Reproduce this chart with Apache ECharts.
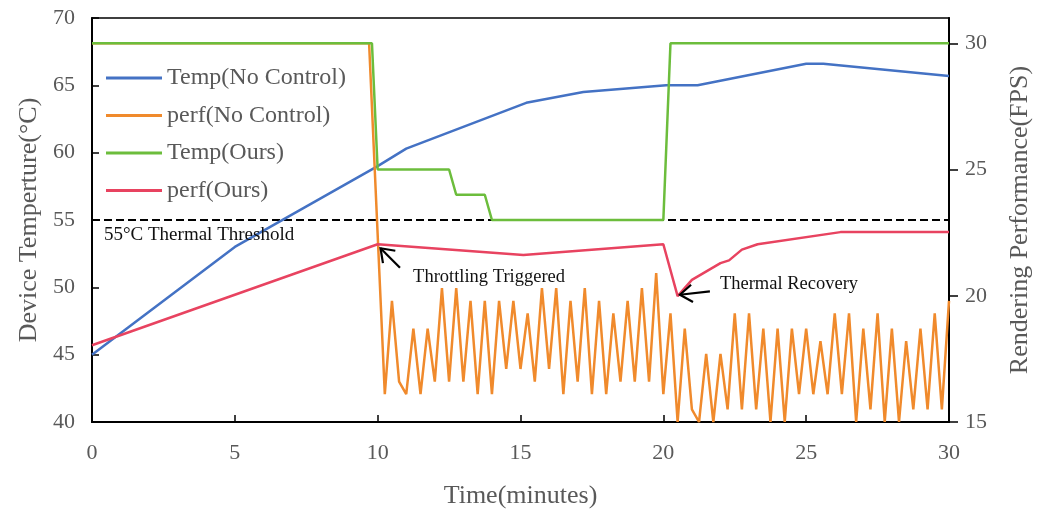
<!DOCTYPE html>
<html>
<head>
<meta charset="utf-8">
<script src="https://cdn.jsdelivr.net/npm/echarts@6/dist/echarts.min.js"></script>
<style>
html,body{margin:0;padding:0;background:#fff;}
#chart{width:1046px;height:510px;}
</style>
</head>
<body>
<div id="chart"></div>
<script>
// ---- data ----
const xTicks = [0, 5, 10, 15, 20, 25, 30];
const leftTicks = [40, 45, 50, 55, 60, 65, 70];
const rightTicks = [15, 20, 25, 30];
const seriesNames = ['Temp(No Control)', 'perf(No Control)', 'Temp(Ours)', 'perf(Ours)'];

// Temp(No Control) [minutes, °C] (left axis)
const tempNoControl = [[0,45],[5,53],[10,59],[11,60.3],[15.2,63.7],[17.2,64.5],[20.1,65],[21.2,65],[25,66.6],[25.6,66.6],[30,65.7]];

// perf(No Control) [minutes, FPS] (right axis)
const perfNoControl = [[0,30],[9.7,30],
 [10.25,16.1],[10.5,19.8],[10.75,16.6],[11,16.1],[11.25,18.7],[11.5,16.1],[11.75,18.7],[12,16.6],
 [12.25,20.3],[12.5,16.6],[12.75,20.3],[13,16.6],[13.25,19.8],[13.5,16.1],[13.75,19.8],[14,16.1],
 [14.25,19.8],[14.5,17.1],[14.75,19.8],[15,17.1],[15.25,19.3],[15.5,16.6],[15.75,20.3],[16,17.1],
 [16.25,20.3],[16.5,16.1],[16.75,19.8],[17,16.6],[17.25,20.3],[17.5,16.1],[17.75,19.8],[18,16.1],
 [18.25,19.3],[18.5,16.6],[18.75,19.8],[19,16.6],[19.25,20.3],[19.5,16.6],[19.75,20.9],[20,16.1],
 [20.25,19.3],[20.5,15],[20.75,18.7],[21,15.5],[21.25,15],[21.5,17.7],[21.75,15],[22,17.7],
 [22.25,15.5],[22.5,19.3],[22.75,15.5],[23,19.3],[23.25,15.5],[23.5,18.7],[23.75,15],[24,18.7],
 [24.25,15],[24.5,18.7],[24.75,16.1],[25,18.7],[25.25,16.1],[25.5,18.2],[25.75,16.1],[26,19.3],
 [26.25,16.1],[26.5,19.3],[26.75,15],[27,18.7],[27.25,15.5],[27.5,19.3],[27.75,15],[28,18.7],
 [28.25,15],[28.5,18.2],[28.75,15.5],[29,18.7],[29.25,15.5],[29.5,19.3],[29.75,15.5],[30,19.8]];

// Temp(Ours) [minutes, FPS-scale] (right axis)
const tempOurs = [[0,30],[9.8,30],[10,25],[12.5,25],[12.75,24],[13.75,24],[14,23],[20,23],[20.25,30],[30,30]];

// perf(Ours) [minutes, °C-scale] (left axis)
const perfOurs = [[0,45.7],[10,53.2],[15.1,52.4],[20,53.2],[20.5,49.35],[21,50.55],[22,51.8],[22.3,52.0],[22.75,52.8],[23.3,53.2],[26.2,54.1],[30,54.1]];

// threshold
const thresholdValue = 55;

// annotations
const noteTexts = ['55°C Thermal Threshold', 'Throttling Triggered', 'Thermal Recovery'];
const notePos = [[0.42, 53.85], [11.24, 50.72], [21.98, 50.2]];
const arrows = [[10.1, 52.9, 10.78, 51.45], [20.58, 49.45, 21.63, 49.7]]; // tip x,y, tail x,y

// ---- styles ----
const FONT = "'Liberation Serif','Times New Roman',serif";
const GRAY = '#595959';
const colors = ['#4472C4', '#F08A2C', '#6CBD3C', '#E84360'];

const chart = echarts.init(document.getElementById('chart'), null, {renderer: 'canvas'});

const option = {
  animation: false,
  backgroundColor: '#fff',
  color: colors,
  grid: {left: 92, right: 97, top: 18, bottom: 88, containLabel: false, outerBoundsMode: 'none',
         show: true, borderColor: '#000', borderWidth: 1.5},
  legend: {
    orient: 'vertical', left: 106, top: 66, padding: 0,
    data: seriesNames.map(n => ({name: n, icon: 'rect'})),
    itemWidth: 56, itemHeight: 3, itemGap: 13.5,
    textStyle: {fontFamily: FONT, fontSize: 24, color: GRAY, lineHeight: 24}
  },
  xAxis: {
    type: 'value', min: 0, max: 30, interval: 5,
    name: 'Time(minutes)', nameLocation: 'middle', nameGap: 61,
    nameTextStyle: {fontFamily: FONT, fontSize: 26, color: GRAY},
    axisLine: {show: true, lineStyle: {color: '#000', width: 2}},
    axisTick: {show: true, inside: true, length: 7, lineStyle: {color: '#000', width: 1.5}, customValues: xTicks},
    axisLabel: {fontFamily: FONT, fontSize: 22, color: GRAY, margin: 20, customValues: xTicks},
    splitLine: {show: false}
  },
  yAxis: [{
    type: 'value', min: 40, max: 70, interval: 5, position: 'left',
    name: 'Device Temperture(°C)', nameLocation: 'middle', nameGap: 50, nameRotate: 90,
    nameTextStyle: {fontFamily: FONT, fontSize: 26, color: GRAY},
    axisLine: {show: true, lineStyle: {color: '#000', width: 2}},
    axisTick: {show: true, inside: true, length: 7, lineStyle: {color: '#000', width: 1.5}, customValues: leftTicks},
    axisLabel: {fontFamily: FONT, fontSize: 22, color: GRAY, margin: 17, customValues: leftTicks},
    splitLine: {show: false}
  }, {
    type: 'value', min: 15, max: 31, interval: 5, position: 'right',
    name: 'Rendering Performance(FPS)', nameLocation: 'middle', nameGap: 58, nameRotate: 90,
    nameTextStyle: {fontFamily: FONT, fontSize: 26, color: GRAY},
    axisLine: {show: true, lineStyle: {color: '#000', width: 2}},
    axisTick: {show: true, inside: false, length: 9, lineStyle: {color: '#000', width: 1.5}, customValues: rightTicks},
    axisLabel: {fontFamily: FONT, fontSize: 22, color: GRAY, margin: 16, customValues: rightTicks},
    splitLine: {show: false}
  }],
  series: [
    {name: 'threshold', type: 'line', yAxisIndex: 0, data: [[0, thresholdValue], [30, thresholdValue]],
     symbol: 'none', silent: true, lineStyle: {color: '#000', width: 2, type: [8, 4]}, z: 1},
    {name: seriesNames[0], type: 'line', yAxisIndex: 0, data: tempNoControl, symbol: 'none',
     lineStyle: {width: 2.5, color: colors[0]}, itemStyle: {color: colors[0]}},
    {name: seriesNames[1], type: 'line', yAxisIndex: 1, data: perfNoControl, symbol: 'none',
     lineStyle: {width: 2.5, color: colors[1]}, itemStyle: {color: colors[1]}},
    {name: seriesNames[2], type: 'line', yAxisIndex: 1, data: tempOurs, symbol: 'none',
     lineStyle: {width: 2.5, color: colors[2]}, itemStyle: {color: colors[2]}},
    {name: seriesNames[3], type: 'line', yAxisIndex: 0, data: perfOurs, symbol: 'none',
     lineStyle: {width: 2.5, color: colors[3]}, itemStyle: {color: colors[3]}},
    {name: 'arrows', type: 'custom', yAxisIndex: 0, data: arrows, silent: true, clip: false, z: 5,
     encode: {x: 0, y: 1},
     renderItem: function (params, api) {
       const tip = api.coord([api.value(0), api.value(1)]);
       const tail = api.coord([api.value(2), api.value(3)]);
       const ang = Math.atan2(tail[1] - tip[1], tail[0] - tip[0]);
       const L = 15, a = 0.62;
       const p1 = [tip[0] + L * Math.cos(ang + a), tip[1] + L * Math.sin(ang + a)];
       const p2 = [tip[0] + L * Math.cos(ang - a), tip[1] + L * Math.sin(ang - a)];
       return {type: 'group', children: [
         {type: 'line', shape: {x1: tail[0], y1: tail[1], x2: tip[0], y2: tip[1]}, style: {stroke: '#000', lineWidth: 2.2}},
         {type: 'polyline', shape: {points: [p1, tip, p2]}, style: {stroke: '#000', lineWidth: 2.2, fill: null}}
       ]};
     }},
    {name: 'notes', type: 'custom', yAxisIndex: 0, data: notePos, silent: true, clip: false, z: 6,
     renderItem: function (params, api) {
       const p = api.coord([api.value(0), api.value(1)]);
       return {type: 'text', x: p[0], y: p[1],
         style: {text: noteTexts[params.dataIndex], fill: '#111', font: (params.dataIndex === 0 ? '19px ' : '18.5px ') + FONT,
                 align: 'left', verticalAlign: 'middle'}};
     }}
  ]
};
chart.setOption(option);
</script>
</body>
</html>
